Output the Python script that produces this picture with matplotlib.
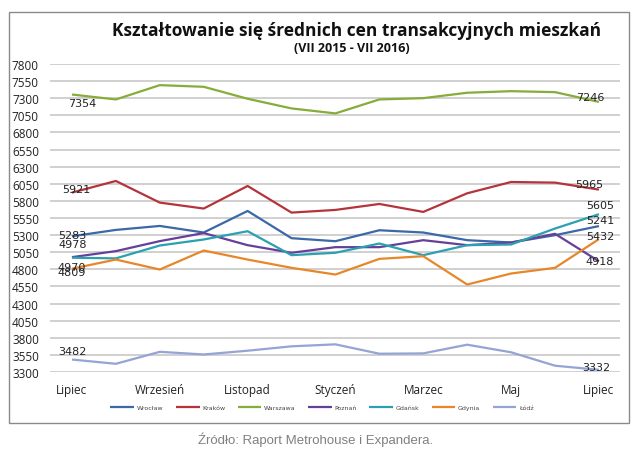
import matplotlib
matplotlib.use("Agg")
import matplotlib.pyplot as plt
from matplotlib.patches import Rectangle

months = ["VII 2015", "VIII 2015", "IX 2015", "X 2015", "XI 2015", "XII 2015",
          "I 2016", "II 2016", "III 2016", "IV 2016", "V 2016", "VI 2016", "VII 2016"]
tick_labels = ["Lipiec", "Wrzesień", "Listopad", "Styczeń", "Marzec", "Maj", "Lipiec"]

series_names = ["Wrocław", "Kraków", "Warszawa", "Poznań", "Gdańsk", "Gdynia", "Łódź"]
wroclaw = [5283, 5376, 5434, 5338, 5653, 5255, 5211, 5371, 5338, 5226, 5192, 5299, 5432]
krakow = [5921, 6091, 5775, 5688, 6018, 5629, 5668, 5755, 5639, 5911, 6076, 6067, 5965]
warszawa = [7354, 7282, 7491, 7467, 7292, 7151, 7078, 7282, 7301, 7380, 7403, 7389, 7246]
poznan = [4978, 5066, 5212, 5330, 5153, 5042, 5124, 5124, 5226, 5153, 5192, 5319, 4918]
gdansk = [4970, 4960, 5148, 5236, 5357, 5007, 5042, 5177, 5007, 5153, 5163, 5396, 5605]
gdynia = [4809, 4943, 4797, 5075, 4943, 4822, 4724, 4953, 4992, 4578, 4739, 4822, 5241]
lodz = [3482, 3420, 3595, 3556, 3611, 3675, 3704, 3567, 3572, 3699, 3588, 3392, 3332]

series = [wroclaw, krakow, warszawa, poznan, gdansk, gdynia, lodz]
colors = ["#3A68A8", "#B5343C", "#86AC3A", "#65409A", "#2AA0B0", "#E8862A", "#94A4D4"]

# label offsets in pixels (start, end)
start_off = [(0, 1), (4, 4), (10, -8), (1, 13), (0, -9), (0, -3), (0, 9)]
end_off = [(1, -10), (-10, 6), (-9, 5), (1, 0), (1, 9), (1, 19), (-3, 3)]

fig = plt.figure(figsize=(6.4, 4.64), dpi=100)
fig.patch.set_facecolor("white")

ax = fig.add_axes([50 / 640, 1 - 373 / 464, 570 / 640, 308 / 464])
x = list(range(len(months)))
for name, vals, c, so, eo in zip(series_names, series, colors, start_off, end_off):
    ax.plot(x, vals, color=c, lw=1.6, label=name, solid_capstyle="butt")
    ax.annotate(f"{vals[0]}", (x[0], vals[0]), xytext=so, textcoords="offset pixels",
                ha="center", va="center", fontsize=8, family="DejaVu Sans", color="#222222")
    ax.annotate(f"{vals[-1]}", (x[-1], vals[-1]), xytext=eo, textcoords="offset pixels",
                ha="center", va="center", fontsize=8, family="DejaVu Sans", color="#222222")

ax.set_xlim(-0.5, 12.48)
ax.set_ylim(3300, 7800)
ax.set_yticks(range(3300, 7801, 250))
ax.set_xticks(x[::2])
ax.set_xticklabels(tick_labels)
ax.grid(axis="y", color="#C8C8C8", lw=1.2)
ax.set_axisbelow(True)
for s in ax.spines.values():
    s.set_visible(False)
ax.tick_params(axis="both", length=0, labelsize=8.5, labelcolor="#222222")
ax.tick_params(axis="y", pad=8)
ax.tick_params(axis="x", pad=0)
for lab in ax.get_yticklabels():
    lab.set_family("Open Sans")
for lab in ax.get_xticklabels():
    lab.set_family("Open Sans")
    lab.set_verticalalignment("baseline")
    lab.set_y(-0.067)

fig.text(357 / 640, 1 - 31 / 464, "Kształtowanie się średnich cen transakcyjnych mieszkań",
         ha="center", va="center", fontsize=12.5, fontweight="bold", family="Open Sans", color="#111111")
fig.text(352 / 640, 1 - 48 / 464, "(VII 2015 - VII 2016)",
         ha="center", va="center", fontsize=9, fontweight="bold", family="Open Sans", color="#111111")

leg = fig.legend(loc="center", bbox_to_anchor=(322 / 640, 1 - 408 / 464), ncol=7, frameon=False,
                 fontsize=4.5, handlelength=3.8, columnspacing=2.0, handletextpad=0.4)
for t in leg.get_texts():
    t.set_color("#444444")

fig.patches.append(Rectangle((9 / 640, 1 - 424 / 464), 620 / 640, 411 / 464, transform=fig.transFigure,
                             fill=False, edgecolor="#8A8A8A", lw=1.0))

fig.text(316 / 640, 1 - 440 / 464, "Źródło: Raport Metrohouse i Expandera.", ha="center", va="center",
         fontsize=9.5, family="Liberation Sans", color="#808080")

fig.savefig("out.png", dpi=100)
